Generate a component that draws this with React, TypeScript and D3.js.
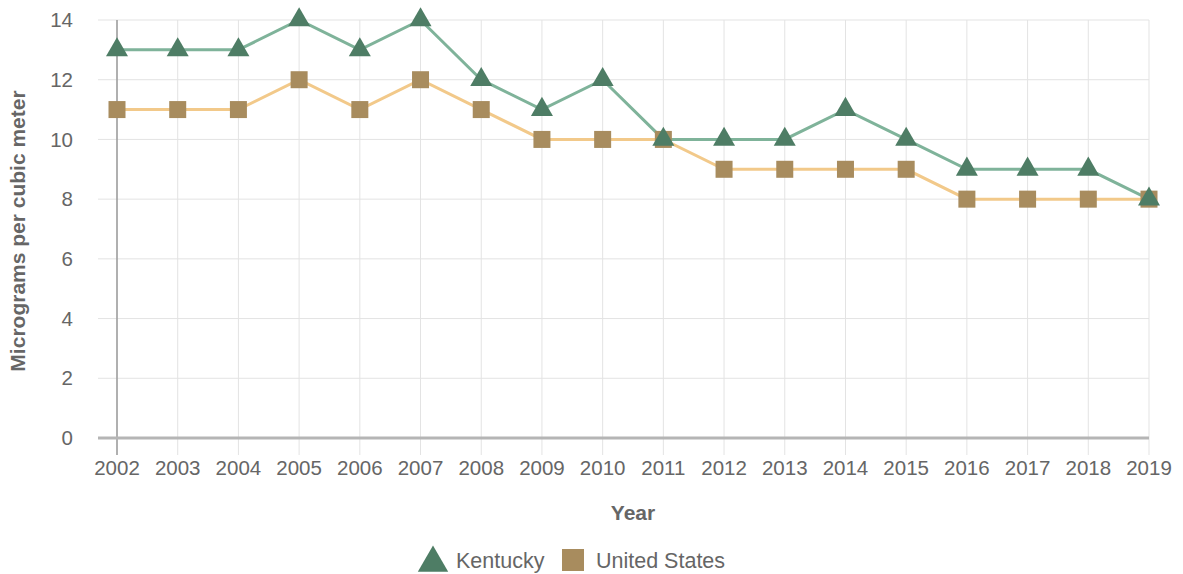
import React from "react";
import * as d3 from "d3";

const years = [2002,2003,2004,2005,2006,2007,2008,2009,2010,2011,2012,2013,2014,2015,2016,2017,2018,2019];
const kentucky = [13,13,13,14,13,14,12,11,12,10,10,10,11,10,9,9,9,8];
const unitedStates = [11,11,11,12,11,12,11,10,10,10,9,9,9,9,8,8,8,8];
const yTicks = [0,2,4,6,8,10,12,14];

const W = 1183, H = 574;
const left = 117, right = 1149, top = 20, bottom = 438;
const font = "'Liberation Sans', Arial, sans-serif";

export default function App() {
  const x = d3.scalePoint<number>().domain(years).range([left, right]);
  const y = d3.scaleLinear().domain([0, 14]).range([bottom, top]);
  const line = d3.line<number>().x((_, i) => x(years[i])!).y(d => y(d));
  const tri = d3.symbol().type(d3.symbolTriangle).size(210)()!;
  const triLegend = d3.symbol().type(d3.symbolTriangle).size(400)()!;
  return (
    <svg width={W} height={H} style={{ position: "absolute", left: 0, top: 0, background: "#fff" }} fontFamily={font}>
      {yTicks.map(t => (
        <g key={t}>
          <line x1={98} x2={right} y1={y(t)} y2={y(t)} stroke="#e3e3e3" strokeWidth={1} />
          <text x={73} y={y(t)} dy="0.35em" textAnchor="end" fontSize={20.5} fill="#666">{t}</text>
        </g>
      ))}
      {years.map(yr => (
        <g key={yr}>
          <line x1={x(yr)} x2={x(yr)} y1={top} y2={455} stroke="#e3e3e3" strokeWidth={1} />
          <text x={x(yr)} y={475} textAnchor="middle" fontSize={20.5} fill="#666">{yr}</text>
        </g>
      ))}
      <line x1={left} x2={left} y1={top} y2={455} stroke="#9a9a9a" strokeWidth={1.5} />
      <line x1={98} x2={right} y1={bottom} y2={bottom} stroke="#b5b5b5" strokeWidth={3} />
      <path d={line(unitedStates)!} fill="none" stroke="#f2c98a" strokeWidth={3} />
      <path d={line(kentucky)!} fill="none" stroke="#7fb39a" strokeWidth={3} />
      {unitedStates.map((v, i) => (
        <rect key={"u" + i} x={x(years[i])! - 8.5} y={y(v) - 8.5} width={17} height={17} fill="#a88c5e" />
      ))}
      {kentucky.map((v, i) => (
        <path key={"k" + i} d={tri} transform={`translate(${x(years[i])},${y(v)})`} fill="#4e7d65" />
      ))}
      <text x={633} y={520} textAnchor="middle" fontSize={21} fontWeight="bold" fill="#666">Year</text>
      <text transform={`translate(25,${(top + bottom) / 2 + 2}) rotate(-90)`} textAnchor="middle" fontSize={21} fontWeight="bold" fill="#666">Micrograms per cubic meter</text>
      <path d={triLegend} transform="translate(433,563)" fill="#4e7d65" />
      <text x={456} y={568} fontSize={21.5} fill="#666">Kentucky</text>
      <rect x={562} y={549} width={22} height={22} fill="#a88c5e" />
      <text x={596} y={568} fontSize={21.5} fill="#666">United States</text>
    </svg>
  );
}
